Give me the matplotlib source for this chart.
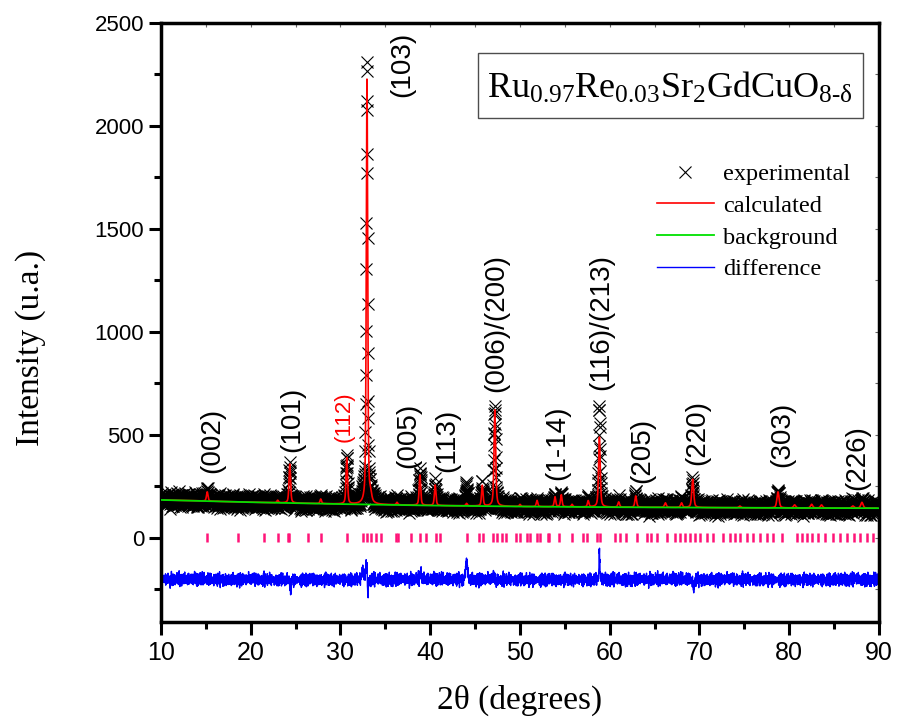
import numpy as np
import matplotlib.pyplot as plt
from matplotlib.patches import Rectangle
from matplotlib.ticker import MultipleLocator

plt.rcParams['mathtext.fontset'] = 'custom'
plt.rcParams['mathtext.rm'] = 'Liberation Serif'
plt.rcParams['mathtext.it'] = 'Liberation Serif:italic'

SANS = 'Liberation Sans'
SERIF = 'Liberation Serif'
RED = '#FF0000'
GREEN = '#00E000'
BLUE = '#0000FF'
PINK = '#FF1478'

# === DATA ===
# refined background, 2theta vs counts
bg_x = [10, 20, 30, 40, 50, 60, 70, 80, 90]
bg_y = [183, 172, 163, 156, 151, 148, 146, 144, 143]

# calculated reflections: position, height above background, fwhm
peak_pos = [15.15, 23.0, 24.35, 27.8, 30.7, 32.95, 33.35, 36.3, 38.85, 40.55,
            44.05, 45.8, 47.2, 50.0, 51.9, 53.9, 54.6, 55.8, 57.6, 58.85,
            61.0, 62.9, 66.2, 68.0, 69.25, 74.5, 78.75, 80.6, 82.5, 83.6,
            87.1, 88.1]
peak_height = [45, 12, 190, 22, 225, 2085, 35, 12, 148, 100,
               12, 100, 468, 10, 30, 48, 58, 12, 30, 342,
               25, 55, 22, 22, 138, 8, 78, 15, 18, 15,
               10, 28]
peak_fwhm = [0.2, 0.2, 0.2, 0.2, 0.2, 0.18, 0.3, 0.2, 0.2, 0.2,
             0.2, 0.2, 0.22, 0.2, 0.2, 0.2, 0.2, 0.2, 0.2, 0.22,
             0.22, 0.22, 0.24, 0.24, 0.25, 0.25, 0.28, 0.28, 0.28, 0.28,
             0.3, 0.3]

# observed minus calculated misfits (seen in the difference curve)
misfit_pos = [24.45, 32.5, 32.85, 32.95, 33.05, 38.95, 44.05, 47.1, 47.35, 58.85, 69.35]
misfit_height = [-55, 40, 60, 70, -70, 45, 85, 30, -30, 150, -55]
misfit_fwhm = [0.12, 0.3, 0.12, 0.06, 0.12, 0.12, 0.25, 0.1, 0.1, 0.1, 0.15]

# counting noise pattern
noise_a = [10, -19, 5, 24, -6, -14, 18, -3, -27, 13, 3, -10, 21, -18, 6, 30, -11, -2,
           14, -22, 8, -5, 19, -13, 2, 26, -16, 11, -8, -24, 16, 0, -10, 22, -14, 5,
           -21, 13, -3, 18, -11, 6, -6]
noise_b = [-6, 11, -3, 8, -13, 5, 2, -10, 14, -5, 6, -2, -11, 10, 3, -8, 13, -3, 0, 8,
           -14, 5, -6, 10, -2, 3, -10, 11, -5, 2, 6]

# Bragg reflection positions
bragg = [15.16, 18.54, 21.51, 22.99, 24.11, 24.3, 26.41, 27.79, 30.69, 32.55,
         32.92, 33.36, 33.95, 34.47, 36.18, 36.44, 37.86, 38.86, 39.53, 40.64,
         41.09, 44.06, 45.47, 45.84, 47.03, 47.4, 47.96, 48.44, 49.55, 50.0,
         50.75, 51.11, 51.93, 52.23, 53.15, 53.27, 54.38, 55.76, 57.05, 57.5,
         58.54, 58.91, 60.58, 61.14, 61.8, 63.0, 64.11, 64.56, 65.23, 66.34,
         67.27, 67.83, 68.39, 68.94, 69.5, 70.06, 70.8, 71.54, 72.65, 73.4,
         73.96, 74.51, 75.26, 76.0, 76.74, 77.49, 78.23, 79.16, 80.83, 81.39,
         81.95, 82.5, 83.24, 83.98, 84.91, 85.65, 86.4, 87.21, 87.88, 88.63,
         89.3]

hkl_labels = ['(002)', '(101)', '(112)', '(103)', '(005)', '(113)', '(006)/(200)',
              '(1-14)', '(116)/(213)', '(205)', '(220)', '(303)', '(226)']
hkl_x = [15.7, 24.6, 30.4, 36.85, 37.6, 41.9, 47.4, 54.1, 59.1, 63.6, 69.7, 79.2, 87.6]
hkl_y = [315, 417, 465, 2141, 340, 320, 709, 280, 718, 265, 353, 344, 232]

DIFF_OFFSET = -205
STEP = 0.02


def pseudo_voigt(x, x0, h, w, eta=0.5):
    g = np.exp(-4 * np.log(2) * ((x - x0) / w) ** 2)
    lor = 1 / (1 + 4 * ((x - x0) / w) ** 2)
    return h * (eta * lor + (1 - eta) * g)


tt = np.arange(10, 90 + STEP / 2, STEP)
background = np.interp(tt, bg_x, bg_y)
calc = background.copy()
for p, h, w in zip(peak_pos, peak_height, peak_fwhm):
    calc += pseudo_voigt(tt, p, h, w)
misfit = np.zeros_like(tt)
for p, h, w in zip(misfit_pos, misfit_height, misfit_fwhm):
    misfit += pseudo_voigt(tt, p, h, w, eta=0.2)
res = np.resize(noise_a, tt.size) + np.resize(noise_b, tt.size)
obs = calc + misfit + res
diff = obs - calc + DIFF_OFFSET

# === FIGURE ===
fig = plt.figure(figsize=(8.98, 7.21), dpi=100)
ax = fig.add_axes([0.1793, 0.1373, 0.7995, 0.8308])

h_obs, = ax.plot(tt, obs, 'x', color='k', ms=8, mew=0.8, ls='none', zorder=1,
                 label='experimental')
h_calc, = ax.plot(tt, calc, color=RED, lw=1.2, zorder=2, label='calculated')
h_bg, = ax.plot(bg_x, bg_y, color=GREEN, lw=1.3, zorder=3, label='background')
h_diff, = ax.plot(tt, diff, color=BLUE, lw=1.0, zorder=2, label='difference')
ax.vlines(bragg, -22, 24, color=PINK, lw=1.8, zorder=2)

for lab, x, y in zip(hkl_labels, hkl_x, hkl_y):
    is_red = lab == '(112)'
    ax.text(x, y, lab, rotation=90, ha='center', va='bottom', family=SANS,
            fontsize=16 if is_red else 20, color=RED if is_red else 'k')

# axes styling
ax.set_xlim(10, 90)
ax.set_ylim(-410, 2500)
ax.set_xticks(range(10, 91, 10))
ax.xaxis.set_minor_locator(MultipleLocator(5))
ax.set_yticks(range(0, 2501, 500))
ax.yaxis.set_minor_locator(MultipleLocator(250))
ax.tick_params(which='both', direction='out', top=False, right=False, width=2.2,
               labelsize=16)
ax.tick_params(which='major', length=9)
ax.tick_params(which='minor', length=5)
ax.tick_params(axis='y', pad=3)
ax.tick_params(axis='x', pad=5, labelsize=18)
for t in ax.get_xticklabels() + ax.get_yticklabels():
    t.set_family(SANS)
for s in ax.spines.values():
    s.set_linewidth(2.5)

top = ax.secondary_xaxis('top')
top.set_xticks(np.arange(10, 91, 5))
top.tick_params(direction='in', length=3, width=0.8, color='0.4', labeltop=False)
top.spines['top'].set_visible(False)
right = ax.secondary_yaxis('right')
right.set_yticks(np.arange(-250, 2501, 250))
right.tick_params(direction='in', length=3, width=0.8, color='0.4', labelright=False)
right.spines['right'].set_visible(False)

ax.set_xlabel('2θ (degrees)', family=SERIF, fontsize=24)
ax.set_ylabel('Intensity (u.a.)', family=SERIF, fontsize=24)
ax.xaxis.set_label_coords(0.499, -0.105)
ax.yaxis.set_label_coords(-0.16, 0.457)

# formula box
ax.add_patch(Rectangle((0.4415, 0.8414), 0.536, 0.1086, transform=ax.transAxes,
                       fill=False, ec='0.3', lw=1.0, zorder=5))
ax.text(0.709, 0.893, r'$\mathrm{Ru_{0.97}Re_{0.03}Sr_{2}GdCuO_{8‐δ}}$',
        transform=ax.transAxes, ha='center', va='center', fontsize=26, zorder=6)

ax.legend(handles=[h_obs, h_calc, h_bg, h_diff], loc='upper left',
          bbox_to_anchor=(0.6908, 0.766), frameon=False, borderpad=0,
          borderaxespad=0, handlelength=2.33, handletextpad=0.4,
          labelspacing=0.4, prop={'family': SERIF, 'size': 17.5})

fig.savefig('out.png', dpi=100, facecolor='white')
